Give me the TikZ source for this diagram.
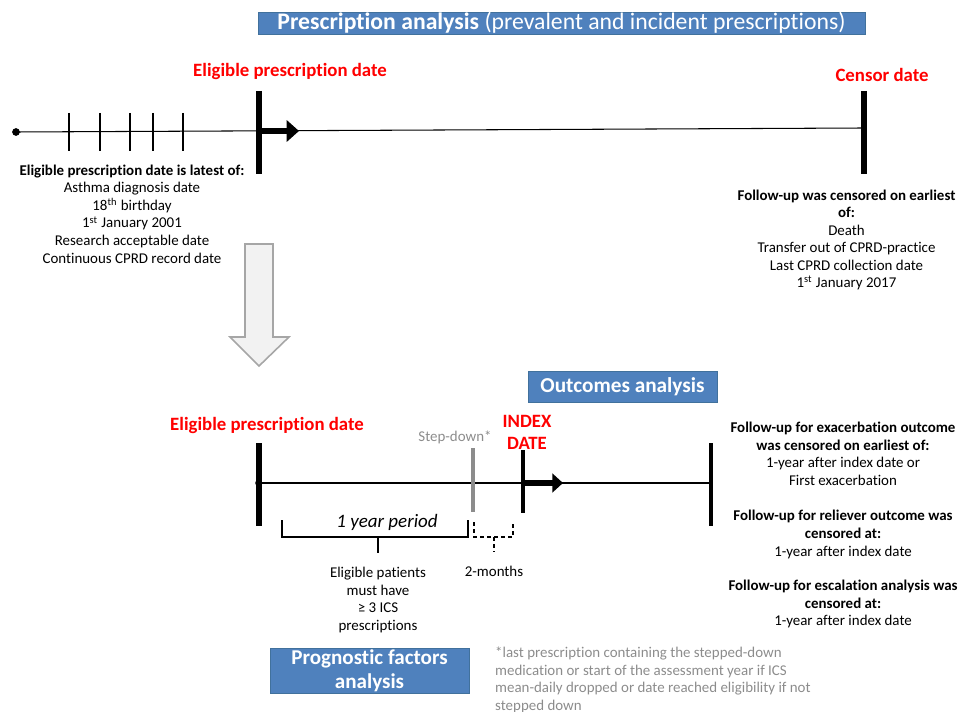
\documentclass[tikz,border=0pt]{standalone}
\usepackage{fontspec}
\setmainfont{Carlito}[Ligatures=NoCommon]
\usetikzlibrary{positioning,shapes,arrows.meta}
\definecolor{boxblue}{HTML}{4F81BD}
\definecolor{boxedge}{HTML}{41719C}
\definecolor{lblred}{HTML}{FF0000}
\definecolor{notegray}{HTML}{8C8C8C}

\begin{document}
\begin{tikzpicture}[x=0.02cm, y=-0.02cm,
  bluebox/.style = {draw=boxedge, fill=boxblue, text=white, font=\fontsize{12.1}{15}\selectfont\bfseries, inner sep=0pt},
  redlbl/.style = {text=lblred, font=\fontsize{10.7}{12.5}\selectfont\bfseries, align=center},
  txt/.style = {font=\fontsize{8.5}{10}\selectfont, align=center},
  bar/.style = {line width=3.8pt},
  tick/.style = {line width=0.8pt},
  fatarrow/.style = {line width=3.6pt, -{Triangle[length=7pt,width=12pt]}}]
\useasboundingbox (0,0) rectangle (969,712);

% prescription analysis
\node[bluebox, minimum width=12.14cm, minimum height=0.44cm, font=\fontsize{13.5}{15}\selectfont] (presc) at (561.5,23)
  {\textbf{Prescription analysis} (prevalent and incident prescriptions)};
\node[redlbl] (elig) at (290,72) {Eligible prescription date};
\node[redlbl] (censor) at (882,75) {Censor date};
\coordinate (t0) at (16,132);
\coordinate (t1) at (864,128);
\draw[line width=0.6pt] (t0) -- (t1);
\fill (t0) circle (2.2pt);
\foreach \tx in {69,100,130,153,183}
  \draw[tick] (\tx,113) -- (\tx,151);
\draw[bar] (259,91) -- (259,174);
\draw[bar] (864,91) -- (864,174);
\draw[fatarrow] (259,131) -- (299,131);
\node[txt] (latest) at (132,214)
  {\textbf{Eligible prescription date is latest of:}\\Asthma diagnosis date\\18\textsuperscript{th} birthday\\
   1\textsuperscript{st} January 2001\\Research acceptable date\\Continuous CPRD record date};
\node[txt] (censored) at (846.5,240)
  {\textbf{Follow-up was censored on earliest}\\\textbf{of:}\\Death\\Transfer out of CPRD-practice\\
   Last CPRD collection date\\1\textsuperscript{st} January 2017};

% hollow arrow down
\draw[draw=black!35, fill=black!5, line width=0.9pt]
  (245,244) -- (273,244) -- (273,337) -- (289,337) -- (259,366) -- (230,337) -- (245,337) -- cycle;

% outcomes analysis
\node[bluebox, minimum width=3.78cm, minimum height=0.62cm] (outc) at (622.5,386.5) {Outcomes analysis};
\node[redlbl] (elig2) at (267,425) {Eligible prescription date};
\node[txt, text=notegray] (stepdn) at (455,437) {Step-down*};
\node[redlbl] (index) at (527,432) {INDEX\\DATE};
\coordinate (b0) at (258,483);
\coordinate (b1) at (711,483);
\draw[line width=0.6pt] (b0) -- (b1);
\fill (b0) circle (1.6pt);
\draw[bar] (259,443) -- (259,526);
\draw[line width=2pt, notegray] (473,448) -- (473,512);
\draw[line width=2.7pt] (523,450) -- (523,513);
\draw[line width=2.4pt] (711,443) -- (711,526);
\draw[fatarrow, line width=3.2pt, -{Triangle[length=6pt,width=10.5pt]}] (523,483) -- (563,483);

% one year period bracket
\draw[line width=0.6pt] (282,520) -- (282,537) -- (468,537) -- (468,520);
\draw[line width=0.6pt] (378,537) -- (378,553);
\node[txt, font=\fontsize{10.8}{12}\selectfont\itshape] (year) at (387,522) {1 year period};
\draw[line width=0.6pt, dash pattern=on 2.3pt off 1.7pt] (474,522) -- (474,537) -- (513,537) -- (513,522);
\draw[line width=0.6pt, dash pattern=on 2.3pt off 1.7pt] (494,537) -- (494,552);
\node[txt] (twomon) at (494,571) {2-months};
\node[txt] (mustics) at (378,600) {Eligible patients\\must have\\≥ 3 ICS\\prescriptions};

\node[txt] (exacfu) at (843,454) {\textbf{Follow-up for exacerbation outcome}\\\textbf{was censored on earliest of:}\\
  1-year after index date or\\First exacerbation};
\node[txt] (relfu) at (843,534.5) {\textbf{Follow-up for reliever outcome was}\\\textbf{censored at:}\\1-year after index date};
\node[txt] (escfu) at (843,604) {\textbf{Follow-up for escalation analysis was}\\\textbf{censored at:}\\1-year after index date};

% prognostic factors
\node[bluebox, minimum width=3.98cm, minimum height=0.9cm, align=center, font=\fontsize{12}{13.6}\selectfont\bfseries] (progn) at (369.5,670.5)
  {Prognostic factors\\analysis};
\node[txt, text=notegray, align=left, anchor=north west] (note) at (489,641)
  {*last prescription containing the stepped-down\\medication or start of the assessment year if ICS\\
   mean-daily dropped or date reached eligibility if not\\stepped down};
\end{tikzpicture}
\end{document}
